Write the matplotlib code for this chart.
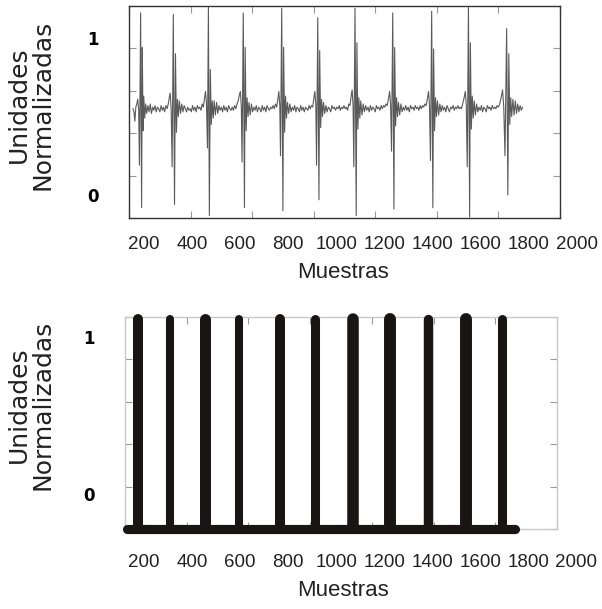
import matplotlib
matplotlib.use("Agg")
import matplotlib.pyplot as plt
from matplotlib.ticker import LinearLocator
from matplotlib.patches import Rectangle

# senal ECG filtrada (muestra, amplitud normalizada)
muestra = [
    154, 158, 162, 166, 170, 174, 178, 181, 186, 190, 193, 196, 199, 203, 207, 211,
    216, 221, 226, 231, 236, 241, 246, 251, 256, 261, 266, 271, 276, 281, 286, 291, 296, 301, 305, 309,
    313, 317, 322, 327, 331, 335, 339, 343, 347, 352, 357, 362, 367, 372, 377, 382, 387, 392, 397, 402,
    407, 412, 417, 422, 427, 432, 437, 442, 447, 452, 456,
    460, 464, 468, 472, 476, 480, 484, 488, 492, 497, 502, 507, 512, 517, 522, 527, 532, 537, 542, 547,
    552, 557, 562, 567, 572, 577, 582, 587, 592, 597, 601,
    605, 608, 613, 618, 621, 625, 629, 633, 637, 642, 647, 652, 657, 662, 667, 672, 677, 682, 687, 692,
    697, 702, 707, 712, 717, 722, 727, 732, 737, 742, 747, 752, 757, 761,
    765, 768, 773, 778, 781, 785, 789, 793, 797, 802, 807, 812, 817, 822, 827, 832, 837, 842, 847, 852,
    857, 862, 867, 872, 877, 882, 887, 892, 897, 902, 907, 911,
    915, 918, 923, 928, 931, 935, 939, 943, 947, 952, 957, 962, 967, 972, 977, 982, 987, 992, 997, 1002,
    1007, 1012, 1017, 1022, 1027, 1032, 1037, 1042, 1047, 1052, 1057, 1062, 1066,
    1070, 1073, 1078, 1083, 1086, 1090, 1094, 1098, 1102, 1107, 1112, 1117, 1122, 1127, 1132, 1137, 1142,
    1147, 1152, 1157, 1162, 1167, 1172, 1177, 1182, 1187, 1192, 1197, 1202, 1207, 1212, 1218, 1222,
    1226, 1230, 1235, 1240, 1243, 1247, 1251, 1255, 1259, 1264, 1269, 1274, 1279, 1284, 1289, 1294, 1299,
    1304, 1309, 1314, 1319, 1324, 1329, 1334, 1339, 1344, 1349, 1354, 1359, 1364, 1369, 1374, 1380, 1384,
    1388, 1392, 1397, 1402, 1405, 1409, 1413, 1417, 1421, 1426, 1431, 1436, 1441, 1446, 1451, 1456, 1461,
    1466, 1471, 1476, 1481, 1486, 1491, 1496, 1501, 1506, 1511, 1516, 1521, 1526, 1532, 1537,
    1541, 1545, 1550, 1555, 1558, 1562, 1566, 1570, 1574, 1579, 1584, 1589, 1594, 1599, 1604, 1609, 1614,
    1619, 1624, 1629, 1634, 1639, 1644, 1649, 1654, 1659, 1664, 1669, 1674, 1680, 1686, 1692,
    1697, 1702, 1709, 1714, 1718, 1722, 1726, 1730, 1735, 1740, 1745, 1750, 1755, 1760, 1765, 1770, 1775,
]
amplitud = [
    0.55, 0.53, 0.47, 0.56, 0.58, 0.61, 0.54, 0.19, 1.16, -0.08, 0.94, 0.41, 0.63, 0.49, 0.58, 0.52,
    0.57, 0.53, 0.58, 0.52, 0.56, 0.54, 0.57, 0.53, 0.56, 0.55, 0.53, 0.57, 0.54, 0.56, 0.53, 0.57, 0.55, 0.58, 0.62, 0.65,
    0.55, 0.18, 1.15, -0.06, 0.90, 0.40, 0.61, 0.50, 0.60, 0.52, 0.58, 0.53, 0.57, 0.55, 0.53, 0.56, 0.54, 0.55, 0.53, 0.57,
    0.54, 0.56, 0.53, 0.57, 0.55, 0.56, 0.54, 0.58, 0.56, 0.62, 0.66,
    0.58, 0.30, 1.20, -0.13, 0.80, 0.45, 0.60, 0.49, 0.60, 0.51, 0.59, 0.52, 0.57, 0.54, 0.56, 0.53, 0.57, 0.54, 0.56, 0.53,
    0.57, 0.55, 0.54, 0.56, 0.54, 0.57, 0.55, 0.58, 0.60, 0.64, 0.66,
    0.56, 0.21, 1.16, -0.08, 0.94, 0.41, 0.62, 0.50, 0.59, 0.51, 0.58, 0.53, 0.56, 0.54, 0.57, 0.53, 0.56, 0.55, 0.53, 0.57,
    0.54, 0.56, 0.53, 0.57, 0.55, 0.54, 0.56, 0.55, 0.57, 0.55, 0.58, 0.56, 0.61, 0.66,
    0.57, 0.25, 1.19, -0.10, 0.94, 0.40, 0.63, 0.49, 0.59, 0.52, 0.58, 0.53, 0.56, 0.54, 0.57, 0.53, 0.56, 0.55, 0.53, 0.57,
    0.54, 0.56, 0.53, 0.56, 0.55, 0.54, 0.57, 0.55, 0.57, 0.56, 0.62, 0.66,
    0.57, 0.19, 1.13, -0.03, 0.92, 0.43, 0.61, 0.50, 0.59, 0.52, 0.57, 0.53, 0.56, 0.55, 0.53, 0.57, 0.55, 0.56, 0.54, 0.56,
    0.55, 0.57, 0.54, 0.56, 0.55, 0.57, 0.55, 0.56, 0.54, 0.58, 0.57, 0.63, 0.67,
    0.57, 0.18, 1.19, -0.13, 0.97, 0.42, 0.62, 0.49, 0.60, 0.51, 0.58, 0.53, 0.57, 0.54, 0.56, 0.53, 0.57,
    0.54, 0.56, 0.55, 0.53, 0.57, 0.55, 0.56, 0.54, 0.57, 0.55, 0.57, 0.56, 0.58, 0.57, 0.62, 0.66,
    0.58, 0.28, 1.16, -0.09, 0.94, 0.44, 0.62, 0.50, 0.59, 0.51, 0.58, 0.53, 0.56, 0.54, 0.57, 0.54, 0.56,
    0.53, 0.57, 0.55, 0.56, 0.54, 0.57, 0.55, 0.56, 0.54, 0.57, 0.55, 0.57, 0.56, 0.58, 0.57, 0.62, 0.66,
    0.57, 0.22, 1.17, -0.08, 0.93, 0.41, 0.62, 0.50, 0.60, 0.51, 0.58, 0.53, 0.57, 0.54, 0.56, 0.53, 0.57,
    0.55, 0.53, 0.56, 0.55, 0.57, 0.54, 0.56, 0.55, 0.57, 0.55, 0.56, 0.55, 0.58, 0.62, 0.66,
    0.57, 0.18, 1.20, -0.14, 0.97, 0.42, 0.63, 0.49, 0.60, 0.51, 0.58, 0.53, 0.56, 0.54, 0.57, 0.53, 0.56,
    0.55, 0.53, 0.57, 0.55, 0.56, 0.54, 0.57, 0.55, 0.56, 0.55, 0.57, 0.56, 0.58, 0.62, 0.67,
    0.56, 0.25, 1.06, 0.00, 0.90, 0.45, 0.62, 0.50, 0.61, 0.51, 0.60, 0.52, 0.58, 0.53, 0.57, 0.54, 0.56,
]

# deteccion de complejos QRS
pulso_x = [175, 308, 456, 597, 766, 910, 1068, 1226, 1382, 1540, 1692]
pulso_bajo = -0.22
pulso_alto = 1.12
base_x = [130, 1745]

etiquetas_x = [200, 400, 600, 800, 1000, 1200, 1400, 1600, 1800, 2000]
etiquetas_y = [0, 1]

ancho_pulso = [7.2, 5.8, 7.9, 5.8, 7.2, 6.5, 8.3, 8.6, 6.8, 8.6, 6.5]

W, H = 602, 609
fig = plt.figure(figsize=(W / 100, H / 100), dpi=100)
ax1 = fig.add_axes([129 / W, 1 - 218 / H, 431 / W, 212 / H])
ax2 = fig.add_axes([125 / W, 1 - 529 / H, 432 / W, 212 / H])

ax1.plot(muestra, amplitud, color="#5a5a5a", lw=0.8)
ax1.set_xlim(137.6, 1931)
ax1.set_ylim(-0.146, 1.204)

ax2.plot(base_x, [pulso_bajo, pulso_bajo], color="#1a1515", lw=6.6,
         solid_capstyle="round", clip_on=False, zorder=3)
# los pulsos se recortan en la linea base para ocultar su extremo inferior
recorte = Rectangle((-0.1, 0), 1.2, 1.3, transform=ax2.transAxes,
                    facecolor="none", edgecolor="none")
for px, lw in zip(pulso_x, ancho_pulso):
    ln, = ax2.plot([px, px], [pulso_bajo, pulso_alto], color="#1a1515", lw=lw,
                   solid_capstyle="round", zorder=3)
    ln.set_clip_path(recorte)
ax2.set_xlim(121, 1919)
ax2.set_ylim(-0.22, 1.13)

for ax, spine_col, ylab in [(ax1, "#333333", -0.127), (ax2, "#c8c8c8", -0.156)]:
    for s in ax.spines.values():
        s.set_color(spine_col)
        s.set_linewidth(1.0)
    ax.set_xticks([])
    ax.set_yticks(etiquetas_y)
    ax.set_yticklabels([str(v) for v in etiquetas_y], fontsize=12,
                       fontweight="bold", family="DejaVu Sans")
    ax.tick_params(axis="y", which="major", length=0, pad=22)
    ax.xaxis.set_minor_locator(LinearLocator(8))
    ax.yaxis.set_minor_locator(LinearLocator(6))
    ax.tick_params(which="minor", direction="in", length=5, width=0.8,
                   color="#999999", top=True, right=True)
    for v in etiquetas_x:
        ax.text(v, ylab, str(v), transform=ax.get_xaxis_transform(),
                ha="center", va="center", fontsize=13.5,
                family="Liberation Sans", color="#222222", clip_on=False)

for yc in [105, 405]:
    fig.text(30.5 / W, 1 - yc / H, "Unidades\nNormalizadas", rotation=90,
             ha="center", va="center", multialignment="center",
             fontsize=18, family="DejaVu Sans", linespacing=0.95, color="#222222")
for yc in [272, 591]:
    fig.text(343 / W, 1 - yc / H, "Muestras", ha="center", va="center",
             fontsize=16, family="Liberation Sans", color="#222222")

fig.savefig("out.png", dpi=100)
